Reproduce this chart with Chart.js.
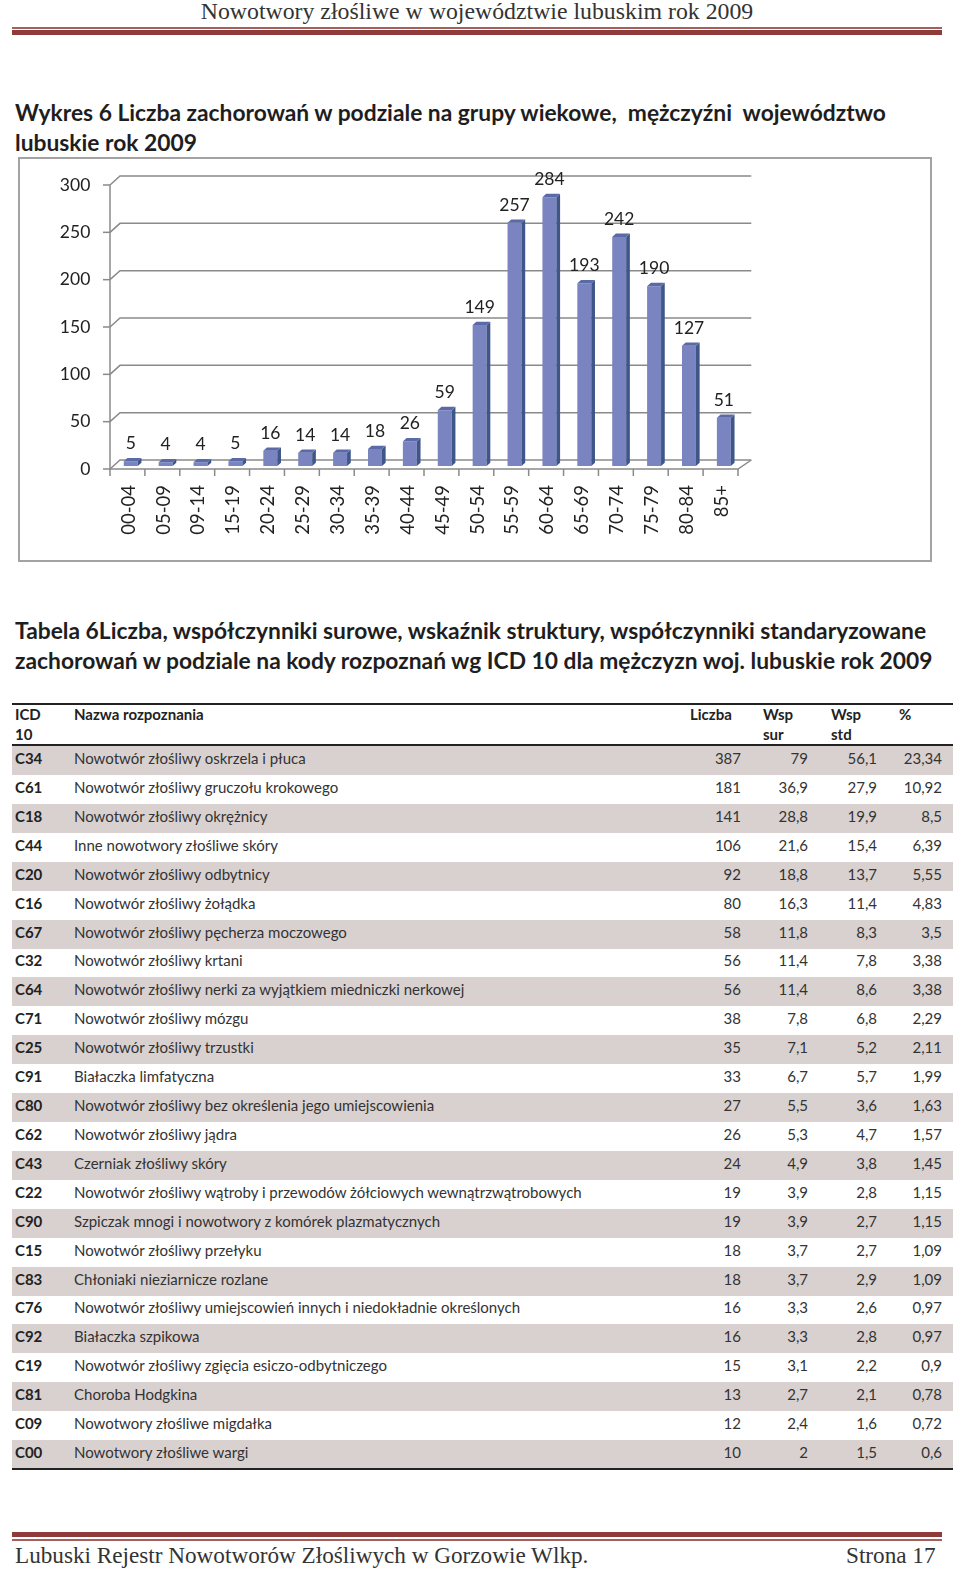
<!DOCTYPE html>
<html lang="pl">
<head>
<meta charset="utf-8">
<title>Nowotwory złośliwe w województwie lubuskim rok 2009</title>
<script src="https://cdn.jsdelivr.net/npm/chart.js@4.4.1/dist/chart.umd.min.js"></script>
<style>
  html, body { margin: 0; padding: 0; background: #fff; }
  #page { position: relative; width: 960px; height: 1571px; overflow: hidden; font-family: Lato, "Open Sans", sans-serif; color: #222; }
  .abs { position: absolute; white-space: nowrap; }
  .serif { font-family: "Liberation Serif", "DejaVu Serif", serif; color: #333; }
  .title { left: 15px; font-weight: bold; font-size: 22.8px; color: #1e1e1e; }
  .rule { position: absolute; left: 12px; width: 930px; }
  #chartBox { position: absolute; left: 18px; top: 157px; width: 910px; height: 401px; border: 2px solid #a3a3a3; }
  .row { position: absolute; left: 12px; width: 941px; height: 29px; line-height: 25px; font-size: 15px; color: #333; }
  .row.shade { background: #d9d1d0; }
  .row span, .hdr span { position: absolute; top: 0; }
  .hdr { position: absolute; left: 12px; width: 941px; font-size: 15px; font-weight: bold; color: #222; line-height: 20px; }
  .num { text-align: right; }
</style>
</head>
<body>
<div id="page">
  <div class="abs serif" style="left:0;width:954px;text-align:center;top:-2px;font-size:23.8px;line-height:27px;">Nowotwory złośliwe w województwie lubuskim rok 2009</div>
  <div class="rule" style="top:27px;height:2px;background:#a4605d;"></div>
  <div class="rule" style="top:30px;height:5px;background:#8e3b39;"></div>

  <div class="abs title" style="top:98px;">Wykres 6 Liczba zachorowań w podziale na grupy wiekowe,&nbsp; mężczyźni&nbsp; województwo</div>
  <div class="abs title" style="top:128px;">lubuskie rok 2009</div>

  <div id="chartBox"></div>
  <div style="position:absolute;left:20px;top:159px;width:908px;height:399px;">
    <canvas id="chart" width="908" height="399"></canvas>
  </div>

  <div class="abs title" style="top:616px;">Tabela 6Liczba, współczynniki surowe, wskaźnik struktury, współczynniki standaryzowane</div>
  <div class="abs title" style="top:646px;">zachorowań w podziale na kody rozpoznań wg ICD 10 dla mężczyzn woj. lubuskie rok 2009</div>

  <div style="position:absolute;left:12px;top:703px;width:941px;height:2px;background:#222;"></div>
  <div class="hdr" style="top:704px;height:40px;">
    <span style="left:3px;">ICD<br>10</span>
    <span style="left:62px;">Nazwa rozpoznania</span>
    <span style="left:678px;">Liczba</span>
    <span style="left:751px;">Wsp<br>sur</span>
    <span style="left:819px;">Wsp<br>std</span>
    <span style="left:887px;">%</span>
  </div>
  <div style="position:absolute;left:12px;top:744px;width:941px;height:2px;background:#222;"></div>
  <div id="rows"></div>
  <div id="tableEnd" style="position:absolute;left:12px;width:941px;height:2px;background:#222;"></div>

  <div class="rule" style="top:1532px;height:5px;background:#8e3b39;"></div>
  <div class="rule" style="top:1539px;height:2px;background:#a4605d;"></div>
  <div class="abs serif" style="left:15px;top:1542px;font-size:23.2px;line-height:26px;">Lubuski Rejestr Nowotworów Złośliwych w Gorzowie Wlkp.</div>
  <div class="abs serif" style="left:846px;top:1542px;font-size:23.2px;line-height:26px;">Strona 17</div>
</div>

<script>
// ---- wykres: grupy wiekowe ----
const ageGroups = ['00-04','05-09','09-14','15-19','20-24','25-29','30-34','35-39','40-44','45-49','50-54','55-59','60-64','65-69','70-74','75-79','80-84','85+'];
const cases = [5, 4, 4, 5, 16, 14, 14, 18, 26, 59, 149, 257, 284, 193, 242, 190, 127, 51];
const yTicks = [0, 50, 100, 150, 200, 250, 300];

// ---- tabela ICD 10 ----
const icdCodes = ['C34','C61','C18','C44','C20','C16','C67','C32','C64','C71','C25','C91','C80','C62','C43','C22','C90','C15','C83','C76','C92','C19','C81','C09','C00'];
const icdNames = [
  'Nowotwór złośliwy oskrzela i płuca',
  'Nowotwór złośliwy gruczołu krokowego',
  'Nowotwór złośliwy okrężnicy',
  'Inne nowotwory złośliwe skóry',
  'Nowotwór złośliwy odbytnicy',
  'Nowotwór złośliwy żołądka',
  'Nowotwór złośliwy pęcherza moczowego',
  'Nowotwór złośliwy krtani',
  'Nowotwór złośliwy nerki za wyjątkiem miedniczki nerkowej',
  'Nowotwór złośliwy mózgu',
  'Nowotwór złośliwy trzustki',
  'Białaczka limfatyczna',
  'Nowotwór złośliwy bez określenia jego umiejscowienia',
  'Nowotwór złośliwy jądra',
  'Czerniak złośliwy skóry',
  'Nowotwór złośliwy wątroby i przewodów żółciowych wewnątrzwątrobowych',
  'Szpiczak mnogi i nowotwory z komórek plazmatycznych',
  'Nowotwór złośliwy przełyku',
  'Chłoniaki nieziarnicze rozlane',
  'Nowotwór złośliwy umiejscowień innych i niedokładnie określonych',
  'Białaczka szpikowa',
  'Nowotwór złośliwy zgięcia esiczo-odbytniczego',
  'Choroba Hodgkina',
  'Nowotwory złośliwe migdałka',
  'Nowotwory złośliwe wargi'
];
const liczba = [387, 181, 141, 106, 92, 80, 58, 56, 56, 38, 35, 33, 27, 26, 24, 19, 19, 18, 18, 16, 16, 15, 13, 12, 10];
const wspSur = [79, 36.9, 28.8, 21.6, 18.8, 16.3, 11.8, 11.4, 11.4, 7.8, 7.1, 6.7, 5.5, 5.3, 4.9, 3.9, 3.9, 3.7, 3.7, 3.3, 3.3, 3.1, 2.7, 2.4, 2];
const wspStd = [56.1, 27.9, 19.9, 15.4, 13.7, 11.4, 8.3, 7.8, 8.6, 6.8, 5.2, 5.7, 3.6, 4.7, 3.8, 2.8, 2.7, 2.7, 2.9, 2.6, 2.8, 2.2, 2.1, 1.6, 1.5];
const procent = [23.34, 10.92, 8.5, 6.39, 5.55, 4.83, 3.5, 3.38, 3.38, 2.29, 2.11, 1.99, 1.63, 1.57, 1.45, 1.15, 1.15, 1.09, 1.09, 0.97, 0.97, 0.9, 0.78, 0.72, 0.6];

const fmt = v => String(v).replace('.', ',');

// tabela
const ROW_TOP = 746, ROW_H = 28.92;
let html = '';
icdCodes.forEach((code, i) => {
  const top = (ROW_TOP + i * ROW_H).toFixed(2);
  html += `<div class="row${i % 2 === 0 ? ' shade' : ''}" style="top:${top}px">
    <span style="left:3px;font-weight:bold;color:#222">${code}</span>
    <span style="left:62px">${icdNames[i]}</span>
    <span class="num" style="right:212px">${fmt(liczba[i])}</span>
    <span class="num" style="right:145px">${fmt(wspSur[i])}</span>
    <span class="num" style="right:76px">${fmt(wspStd[i])}</span>
    <span class="num" style="right:11px">${fmt(procent[i])}</span>
  </div>`;
});
document.getElementById('rows').innerHTML = html;
document.getElementById('tableEnd').style.top = (ROW_TOP + icdCodes.length * ROW_H - 1) + 'px';

// ---- 3D wygląd (ściana, podłoga, boki słupków, etykiety) ----
const FRONT = {dx: -3.3, dy: 3};
const BACK = {dx: 6.7, dy: -6};
const SIDE = {dx: 3.7, dy: -3.3};

const depth3d = {
  id: 'depth3d',
  beforeDatasetsDraw(chart) {
    const {ctx} = chart;
    const xs = chart.scales.x, ys = chart.scales.y;
    const L = xs.left, R = xs.right;
    const cw = (R - L) / ageGroups.length;
    ctx.save();
    ctx.strokeStyle = '#8a8a8a';
    ctx.lineWidth = 1.5;
    // linie siatki na tylnej ścianie
    yTicks.forEach(v => {
      const py = ys.getPixelForValue(v);
      ctx.beginPath();
      ctx.moveTo(L + FRONT.dx, py + FRONT.dy);
      ctx.lineTo(L + BACK.dx, py + BACK.dy);
      ctx.lineTo(R + 10, py + BACK.dy);
      ctx.stroke();
      // kreska osi Y
      ctx.beginPath();
      ctx.moveTo(L + FRONT.dx - 7, py + FRONT.dy);
      ctx.lineTo(L + FRONT.dx, py + FRONT.dy);
      ctx.stroke();
    });
    const top = ys.getPixelForValue(300), zero = ys.getPixelForValue(0);
    ctx.beginPath();
    ctx.moveTo(L + FRONT.dx, top + FRONT.dy);
    ctx.lineTo(L + FRONT.dx, zero + FRONT.dy);
    ctx.lineTo(R + FRONT.dx, zero + FRONT.dy);
    ctx.lineTo(R + 10, zero + BACK.dy);
    ctx.stroke();
    for (let i = 0; i <= ageGroups.length; i++) {
      const x = L + FRONT.dx + i * cw;
      ctx.beginPath();
      ctx.moveTo(x, zero + FRONT.dy);
      ctx.lineTo(x, zero + FRONT.dy + 7);
      ctx.stroke();
    }
    ctx.restore();
  },
  afterDatasetsDraw(chart) {
    const {ctx} = chart;
    const meta = chart.getDatasetMeta(0);
    ctx.save();
    meta.data.forEach((bar, i) => {
      const {x, y, base, width} = bar.getProps(['x', 'y', 'base', 'width'], true);
      const xl = x - width / 2, xr = x + width / 2;
      ctx.fillStyle = '#3f5688';
      ctx.beginPath();
      ctx.moveTo(xr, y);
      ctx.lineTo(xr + SIDE.dx, y + SIDE.dy);
      ctx.lineTo(xr + SIDE.dx, base + SIDE.dy);
      ctx.lineTo(xr, base);
      ctx.closePath();
      ctx.fill();
      ctx.fillStyle = '#5a6aa6';
      ctx.beginPath();
      ctx.moveTo(xl, y);
      ctx.lineTo(xl + SIDE.dx, y + SIDE.dy);
      ctx.lineTo(xr + SIDE.dx, y + SIDE.dy);
      ctx.lineTo(xr, y);
      ctx.closePath();
      ctx.fill();
      ctx.fillStyle = '#222';
      ctx.font = '17.5px Lato, "Open Sans", sans-serif';
      ctx.textAlign = 'center';
      ctx.textBaseline = 'alphabetic';
      ctx.fillText(String(cases[i]), x, y - 12);
    });
    ctx.restore();
  }
};

new Chart(document.getElementById('chart'), {
  type: 'bar',
  data: {
    labels: ageGroups,
    datasets: [{
      data: cases,
      backgroundColor: '#7a84c0',
      borderWidth: 0,
      barPercentage: 0.8,
      categoryPercentage: 0.5
    }]
  },
  options: {
    responsive: false,
    animation: false,
    layout: {padding: {top: 23, right: 186.7, left: 0, bottom: 0}},
    plugins: {legend: {display: false}, tooltip: {enabled: false}},
    scales: {
      x: {
        grid: {display: false, drawTicks: false},
        border: {display: false},
        ticks: {color: '#222', font: {family: 'Lato', size: 18.5}, minRotation: 90, maxRotation: 90, autoSkip: false, padding: 19, labelOffset: -2},
        afterFit: s => { s.height = 92; s.paddingLeft = 0; s.paddingRight = 0; }
      },
      y: {
        min: 0, max: 300,
        grid: {display: false, drawTicks: false},
        border: {display: false},
        ticks: {stepSize: 50, color: '#222', font: {family: 'Lato', size: 17.5}, padding: 23, labelOffset: 3},
        afterFit: s => { s.width = 93.3; s.paddingTop = 0; s.paddingBottom = 0; }
      }
    }
  },
  plugins: [depth3d]
});
</script>
</body>
</html>
